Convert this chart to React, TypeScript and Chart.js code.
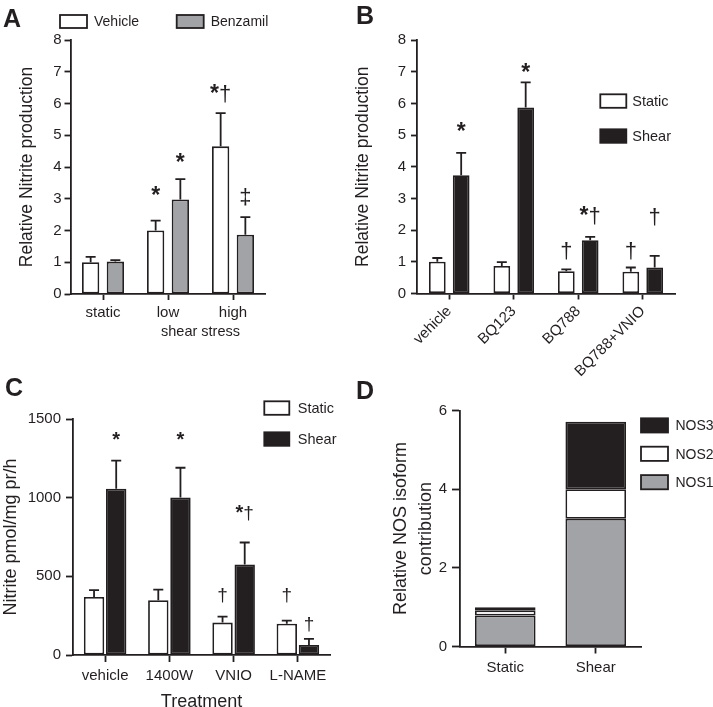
import React, { useEffect, useRef } from 'react';
import { Chart, registerables } from 'chart.js';

Chart.register(...registerables);

const FONT = '"Liberation Sans", Arial, Helvetica, sans-serif';
const INK = '#231f20';
const GRAY = '#a2a3a6';
const W = 713;
const H = 760;
const LW = 1.8;

// ---------- Panel A ----------
const catsA = ['static', 'low', 'high'];
const vehicleA = [1.0, 2.0, 4.65];
const vehicleSemA = [0.17, 0.31, 1.05];
const benzamilA = [1.02, 2.98, 1.87];
const benzamilSemA = [0.05, 0.64, 0.55];
const yTitleA = 'Relative Nitrite production';
const xTitleA = 'shear stress';
const marksA = [
  { ds: 0, i: 1, text: '*', at: 2.87 },
  { ds: 1, i: 1, text: '*', at: 3.89 },
  { ds: 0, i: 2, text: '*†', at: 6.08 },
  { ds: 1, i: 2, text: '‡', at: 2.83 },
];

// ---------- Panel B ----------
const catsB = ['vehicle', 'BQ123', 'BQ788', 'BQ788+VNIO'];
const staticB = [1.0, 0.87, 0.7, 0.69];
const staticSemB = [0.12, 0.12, 0.06, 0.13];
const shearB = [3.73, 5.87, 1.68, 0.82];
const shearSemB = [0.71, 0.79, 0.11, 0.37];
const yTitleB = 'Relative Nitrite production';
const marksB = [
  { ds: 1, i: 0, text: '*', at: 4.86 },
  { ds: 1, i: 1, text: '*', at: 6.75 },
  { ds: 0, i: 2, text: '†', at: 1.11 },
  { ds: 1, i: 2, text: '*†', at: 2.22 },
  { ds: 0, i: 3, text: '†', at: 1.11 },
  { ds: 1, i: 3, text: '†', at: 2.19 },
];

// ---------- Panel C ----------
const catsC = ['vehicle', '1400W', 'VNIO', 'L-NAME'];
const staticC = [369, 348, 206, 199];
const staticSemC = [43, 68, 38, 19];
const shearC = [1057, 1001, 575, 64];
const shearSemC = [178, 189, 140, 38];
const yTitleC = 'Nitrite pmol/mg pr/h';
const xTitleC = 'Treatment';
const marksC = [
  { ds: 1, i: 0, text: '*', at: 1328 },
  { ds: 1, i: 1, text: '*', at: 1328 },
  { ds: 1, i: 2, text: '*†', at: 865 },
  { ds: 0, i: 2, text: '†', at: 341 },
  { ds: 0, i: 3, text: '†', at: 341 },
  { ds: 1, i: 3, text: '†', at: 160 },
];

// ---------- Panel D ----------
const catsD = ['Static', 'Shear'];
const nos1D = [0.79, 3.25];
const nos2D = [0.13, 0.75];
const nos3D = [0.08, 1.72];
const yTitleD = ['Relative NOS isoform', 'contribution'];

type Mark = { ds: number; i: number; text: string; at: number };
type LegendSpec = {
  items: { label: string; fill: string }[];
  x: number; y: number; dx: number; dy: number;
  w: number; h: number; gap: number; size: number;
};

function drawMark(ctx: any, text: string, cx: number, y: number, size: number) {
  const chars = Array.from(text);
  const fontFor = (c: string) => (c === '*' ? `bold ${size + 1}px ${FONT}` : `${size}px ${FONT}`);
  const widths = chars.map((c) => {
    ctx.font = fontFor(c);
    return ctx.measureText(c).width;
  });
  const total = widths.reduce((a, b) => a + b, 0);
  let x = cx - total / 2;
  ctx.textAlign = 'left';
  chars.forEach((c, k) => {
    ctx.font = fontFor(c);
    ctx.fillText(c, x, y);
    x += widths[k];
  });
}

function deco(spec: {
  letter: { text: string; x: number; y: number };
  legend: LegendSpec;
  sems?: (number[] | null)[];
  marks?: Mark[];
  markSize?: number;
  extra?: (chart: any) => void;
}) {
  return {
    id: 'deco',
    afterDatasetsDraw(chart: any) {
      const ctx = chart.ctx;
      const ys = chart.scales.y;
      ctx.save();
      ctx.strokeStyle = INK;
      ctx.lineWidth = LW;
      (spec.sems || []).forEach((sem, d) => {
        if (!sem) return;
        const meta = chart.getDatasetMeta(d);
        const data = chart.data.datasets[d].data as number[];
        meta.data.forEach((el: any, i: number) => {
          const top = ys.getPixelForValue(data[i] + sem[i]);
          ctx.beginPath();
          ctx.moveTo(el.x, el.y);
          ctx.lineTo(el.x, top);
          ctx.moveTo(el.x - 5, top);
          ctx.lineTo(el.x + 5, top);
          ctx.stroke();
        });
      });
      ctx.fillStyle = INK;
      ctx.textBaseline = 'alphabetic';
      (spec.marks || []).forEach((m) => {
        const el = chart.getDatasetMeta(m.ds).data[m.i];
        drawMark(ctx, m.text, el.x, ys.getPixelForValue(m.at), spec.markSize || 20);
      });
      ctx.restore();
    },
    afterDraw(chart: any) {
      const ctx = chart.ctx;
      ctx.save();
      ctx.fillStyle = INK;
      ctx.font = `bold 25px ${FONT}`;
      ctx.textAlign = 'center';
      ctx.textBaseline = 'alphabetic';
      ctx.fillText(spec.letter.text, spec.letter.x, spec.letter.y);
      const lg = spec.legend;
      lg.items.forEach((it, k) => {
        const bx = lg.x + k * lg.dx;
        const by = lg.y + k * lg.dy;
        ctx.fillStyle = it.fill;
        ctx.fillRect(bx, by, lg.w, lg.h);
        ctx.strokeStyle = INK;
        ctx.lineWidth = LW;
        ctx.strokeRect(bx, by, lg.w, lg.h);
        ctx.fillStyle = INK;
        ctx.font = `${lg.size}px ${FONT}`;
        ctx.textAlign = 'left';
        ctx.textBaseline = 'middle';
        ctx.fillText(it.label, bx + lg.w + lg.gap, by + lg.h / 2 + 1);
      });
      if (spec.extra) spec.extra(chart);
      ctx.restore();
    },
  };
}

function xAxis(tickLen: number, pad: number, height: number, rot = 0) {
  return {
    grid: { display: true, drawOnChartArea: false, drawTicks: true, tickLength: tickLen, tickWidth: LW, tickColor: INK, offset: false },
    border: { display: true, color: INK, width: LW },
    ticks: { color: INK, font: { family: FONT, size: 15 }, padding: pad, autoSkip: false, maxRotation: rot, minRotation: rot },
    afterFit: (s: any) => { s.height = height; },
  };
}

function yAxis(max: number, step: number, tickLen: number, pad: number, width: number, title: any) {
  return {
    min: 0,
    max,
    grid: { display: true, drawOnChartArea: false, drawTicks: true, tickLength: tickLen, tickWidth: LW, tickColor: INK },
    border: { display: true, color: INK, width: LW },
    ticks: { stepSize: step, color: INK, font: { family: FONT, size: 15 }, padding: pad, callback: (v: any) => String(v) },
    title,
    afterFit: (s: any) => { s.width = width; },
  };
}

const barStyle = { borderColor: INK, borderWidth: LW, borderSkipped: false as const };
const baseOpts = {
  animation: false,
  responsive: false,
  devicePixelRatio: 1,
  events: [] as any[],
};
const noPlugins = { legend: { display: false }, tooltip: { enabled: false } };

function configA(): any {
  return {
    type: 'bar',
    data: {
      labels: catsA,
      datasets: [
        { label: 'Vehicle', data: vehicleA, backgroundColor: '#ffffff', ...barStyle, categoryPercentage: 0.76, barPercentage: 0.7 },
        { label: 'Benzamil', data: benzamilA, backgroundColor: GRAY, ...barStyle, categoryPercentage: 0.76, barPercentage: 0.7 },
      ],
    },
    options: {
      ...baseOpts,
      layout: { padding: { left: 16.5, top: 40, right: W - 265.5, bottom: H - 294 - 45 } },
      plugins: noPlugins,
      scales: {
        x: xAxis(6, 4, 45),
        y: yAxis(8, 1, 6, 3, 54, { display: true, text: yTitleA, color: INK, padding: 0, font: { family: FONT, size: 17.5, lineHeight: 1.2 } }),
      },
    },
    plugins: [
      deco({
        letter: { text: 'A', x: 12, y: 26.5 },
        legend: { items: [{ label: 'Vehicle', fill: '#ffffff' }, { label: 'Benzamil', fill: GRAY }], x: 60, y: 15, dx: 116.7, dy: 0, w: 27, h: 13, gap: 7, size: 14 },
        sems: [vehicleSemA, benzamilSemA],
        marks: marksA,
        markSize: 22,
        extra: (chart: any) => {
          const ctx = chart.ctx;
          const xs = chart.scales.x;
          const cx = (xs.getPixelForValue(1) + xs.getPixelForValue(2)) / 2;
          ctx.fillStyle = INK;
          ctx.font = `14.5px ${FONT}`;
          ctx.textAlign = 'center';
          ctx.textBaseline = 'middle';
          ctx.fillText(xTitleA, cx, chart.chartArea.bottom + 38);
        },
      }),
    ],
  };
}

function configB(): any {
  return {
    type: 'bar',
    data: {
      labels: catsB,
      datasets: [
        { label: 'Static', data: staticB, backgroundColor: '#ffffff', ...barStyle, categoryPercentage: 0.74, barPercentage: 0.7 },
        { label: 'Shear', data: shearB, backgroundColor: INK, ...barStyle, categoryPercentage: 0.74, barPercentage: 0.7 },
      ],
    },
    options: {
      ...baseOpts,
      layout: { padding: { left: 352.5, top: 40, right: W - 675, bottom: H - 293.5 - 100 } },
      plugins: noPlugins,
      scales: {
        x: xAxis(6, 3, 100, 45),
        y: yAxis(8, 1, 6, 5, 417 - 352.5, { display: true, text: yTitleB, color: INK, padding: 0, font: { family: FONT, size: 17.5, lineHeight: 1.2 } }),
      },
    },
    plugins: [
      deco({
        letter: { text: 'B', x: 365, y: 24 },
        legend: { items: [{ label: 'Static', fill: '#ffffff' }, { label: 'Shear', fill: INK }], x: 600.3, y: 94.3, dx: 0, dy: 35, w: 26, h: 13.5, gap: 6, size: 14.5 },
        sems: [staticSemB, shearSemB],
        marks: marksB,
        markSize: 22,
      }),
    ],
  };
}

function configC(): any {
  return {
    type: 'bar',
    data: {
      labels: catsC,
      datasets: [
        { label: 'Static', data: staticC, backgroundColor: '#ffffff', ...barStyle, categoryPercentage: 0.69, barPercentage: 0.92 },
        { label: 'Shear', data: shearC, backgroundColor: INK, ...barStyle, categoryPercentage: 0.69, barPercentage: 0.92 },
      ],
    },
    options: {
      ...baseOpts,
      layout: { padding: { left: 0, top: 419, right: W - 330, bottom: H - 655 - 57.5 } },
      plugins: noPlugins,
      scales: {
        x: {
          ...xAxis(7, 5, 57.5),
          title: { display: true, text: xTitleC, color: INK, padding: 0, font: { family: FONT, size: 18, lineHeight: 1.2 } },
        },
        y: yAxis(1500, 500, 7, 5, 73, { display: true, text: yTitleC, color: INK, padding: 0, font: { family: FONT, size: 18, lineHeight: 1.2 } }),
      },
    },
    plugins: [
      deco({
        letter: { text: 'C', x: 14, y: 396 },
        legend: { items: [{ label: 'Static', fill: '#ffffff' }, { label: 'Shear', fill: INK }], x: 264.3, y: 401.3, dx: 0, dy: 31, w: 25, h: 13.5, gap: 8.5, size: 14.5 },
        sems: [staticSemC, shearSemC],
        marks: marksC,
        markSize: 19,
      }),
    ],
  };
}

function configD(): any {
  return {
    type: 'bar',
    data: {
      labels: catsD,
      datasets: [
        { label: 'NOS1', data: nos1D, backgroundColor: GRAY, ...barStyle, categoryPercentage: 1, barPercentage: 0.67 },
        { label: 'NOS2', data: nos2D, backgroundColor: '#ffffff', ...barStyle, categoryPercentage: 1, barPercentage: 0.67 },
        { label: 'NOS3', data: nos3D, backgroundColor: INK, ...barStyle, categoryPercentage: 1, barPercentage: 0.67 },
      ],
    },
    options: {
      ...baseOpts,
      layout: { padding: { left: 388.5, top: 410.7, right: W - 641, bottom: H - 646.5 - 40 } },
      plugins: noPlugins,
      scales: {
        x: { ...xAxis(7, 5, 40), stacked: true },
        y: {
          ...yAxis(6, 2, 8, 5, 460 - 388.5, { display: true, text: yTitleD, color: INK, padding: 0, font: { family: FONT, size: 18, lineHeight: 25 / 18 } }),
          stacked: true,
        },
      },
    },
    plugins: [
      deco({
        letter: { text: 'D', x: 365, y: 398.5 },
        legend: {
          items: [{ label: 'NOS3', fill: INK }, { label: 'NOS2', fill: '#ffffff' }, { label: 'NOS1', fill: GRAY }],
          x: 641, y: 418.3, dx: 0, dy: 28.4, w: 27, h: 14.2, gap: 7.5, size: 14,
        },
      }),
    ],
  };
}

function Panel({ make }: { make: () => any }) {
  const ref = useRef<HTMLCanvasElement | null>(null);
  useEffect(() => {
    if (!ref.current) return;
    const chart = new Chart(ref.current, make());
    return () => chart.destroy();
  }, [make]);
  return (
    <canvas
      ref={ref}
      width={W}
      height={H}
      style={{ position: 'absolute', left: 0, top: 0, width: W, height: H }}
    />
  );
}

export default function App() {
  return (
    <div
      style={{
        position: 'fixed',
        left: 0,
        top: 0,
        width: W,
        height: 707,
        overflow: 'hidden',
        background: '#ffffff',
      }}
    >
      <Panel make={configA} />
      <Panel make={configB} />
      <Panel make={configC} />
      <Panel make={configD} />
    </div>
  );
}
